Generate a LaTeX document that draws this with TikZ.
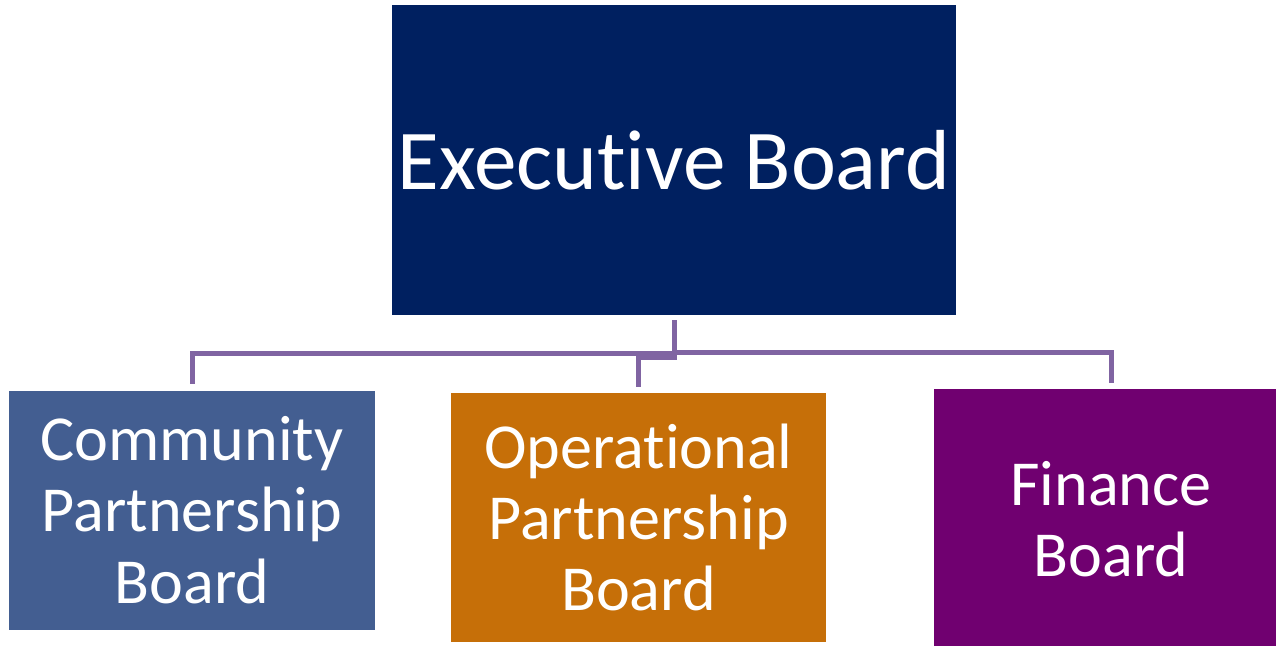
\documentclass[tikz,border=0pt]{standalone}
\usepackage{fontspec}
\setmainfont[Ligatures={NoCommon}]{Carlito}
\usetikzlibrary{positioning}
\definecolor{execblue}{RGB}{0,32,96}
\definecolor{commblue}{RGB}{67,94,145}
\definecolor{operorange}{RGB}{198,111,8}
\definecolor{finpurple}{RGB}{112,0,112}
\definecolor{linkpurple}{RGB}{128,100,162}
\begin{document}
\begin{tikzpicture}[
        board/.style={fill=#1, draw=none, text=white, align=center, inner sep=0pt},
        childboard/.style={board=#1, font=\fontsize{36.5}{40.5}\selectfont},
        link/.style={draw=linkpurple, line width=0.1cm, shorten <=0.1cm, shorten >=0.12cm}
    ]
        \useasboundingbox (0,0) rectangle (25.52,-12.9);
        % Top board
        \node[board=execblue, minimum width=11.28cm, minimum height=6.2cm, font=\fontsize{48.5}{56}\selectfont] (exec) at (13.48,-3.2) {Executive Board};

        % Sub boards
        \node[childboard=commblue, minimum width=7.32cm, minimum height=4.78cm] (comm) at (3.84,-10.2) {Community\\Partnership\\Board};
        \node[childboard=operorange, minimum width=7.5cm, minimum height=4.98cm] (oper) at (12.77,-10.35) {Operational\\Partnership\\Board};
        \node[childboard=finpurple, minimum width=7.08cm, minimum height=5.2cm] (fin) at (22.22,-10.38) {Finance\\Board};

        % Connectors
        \draw[link] (exec.south) -- ++(0,-0.76) -| (comm.north);
        \draw[link] (exec.south) -- ++(0,-0.84) -| (oper.north);
        \draw[link] (exec.south) -- ++(0,-0.74) -| (fin.north);
    \end{tikzpicture}
\end{document}
